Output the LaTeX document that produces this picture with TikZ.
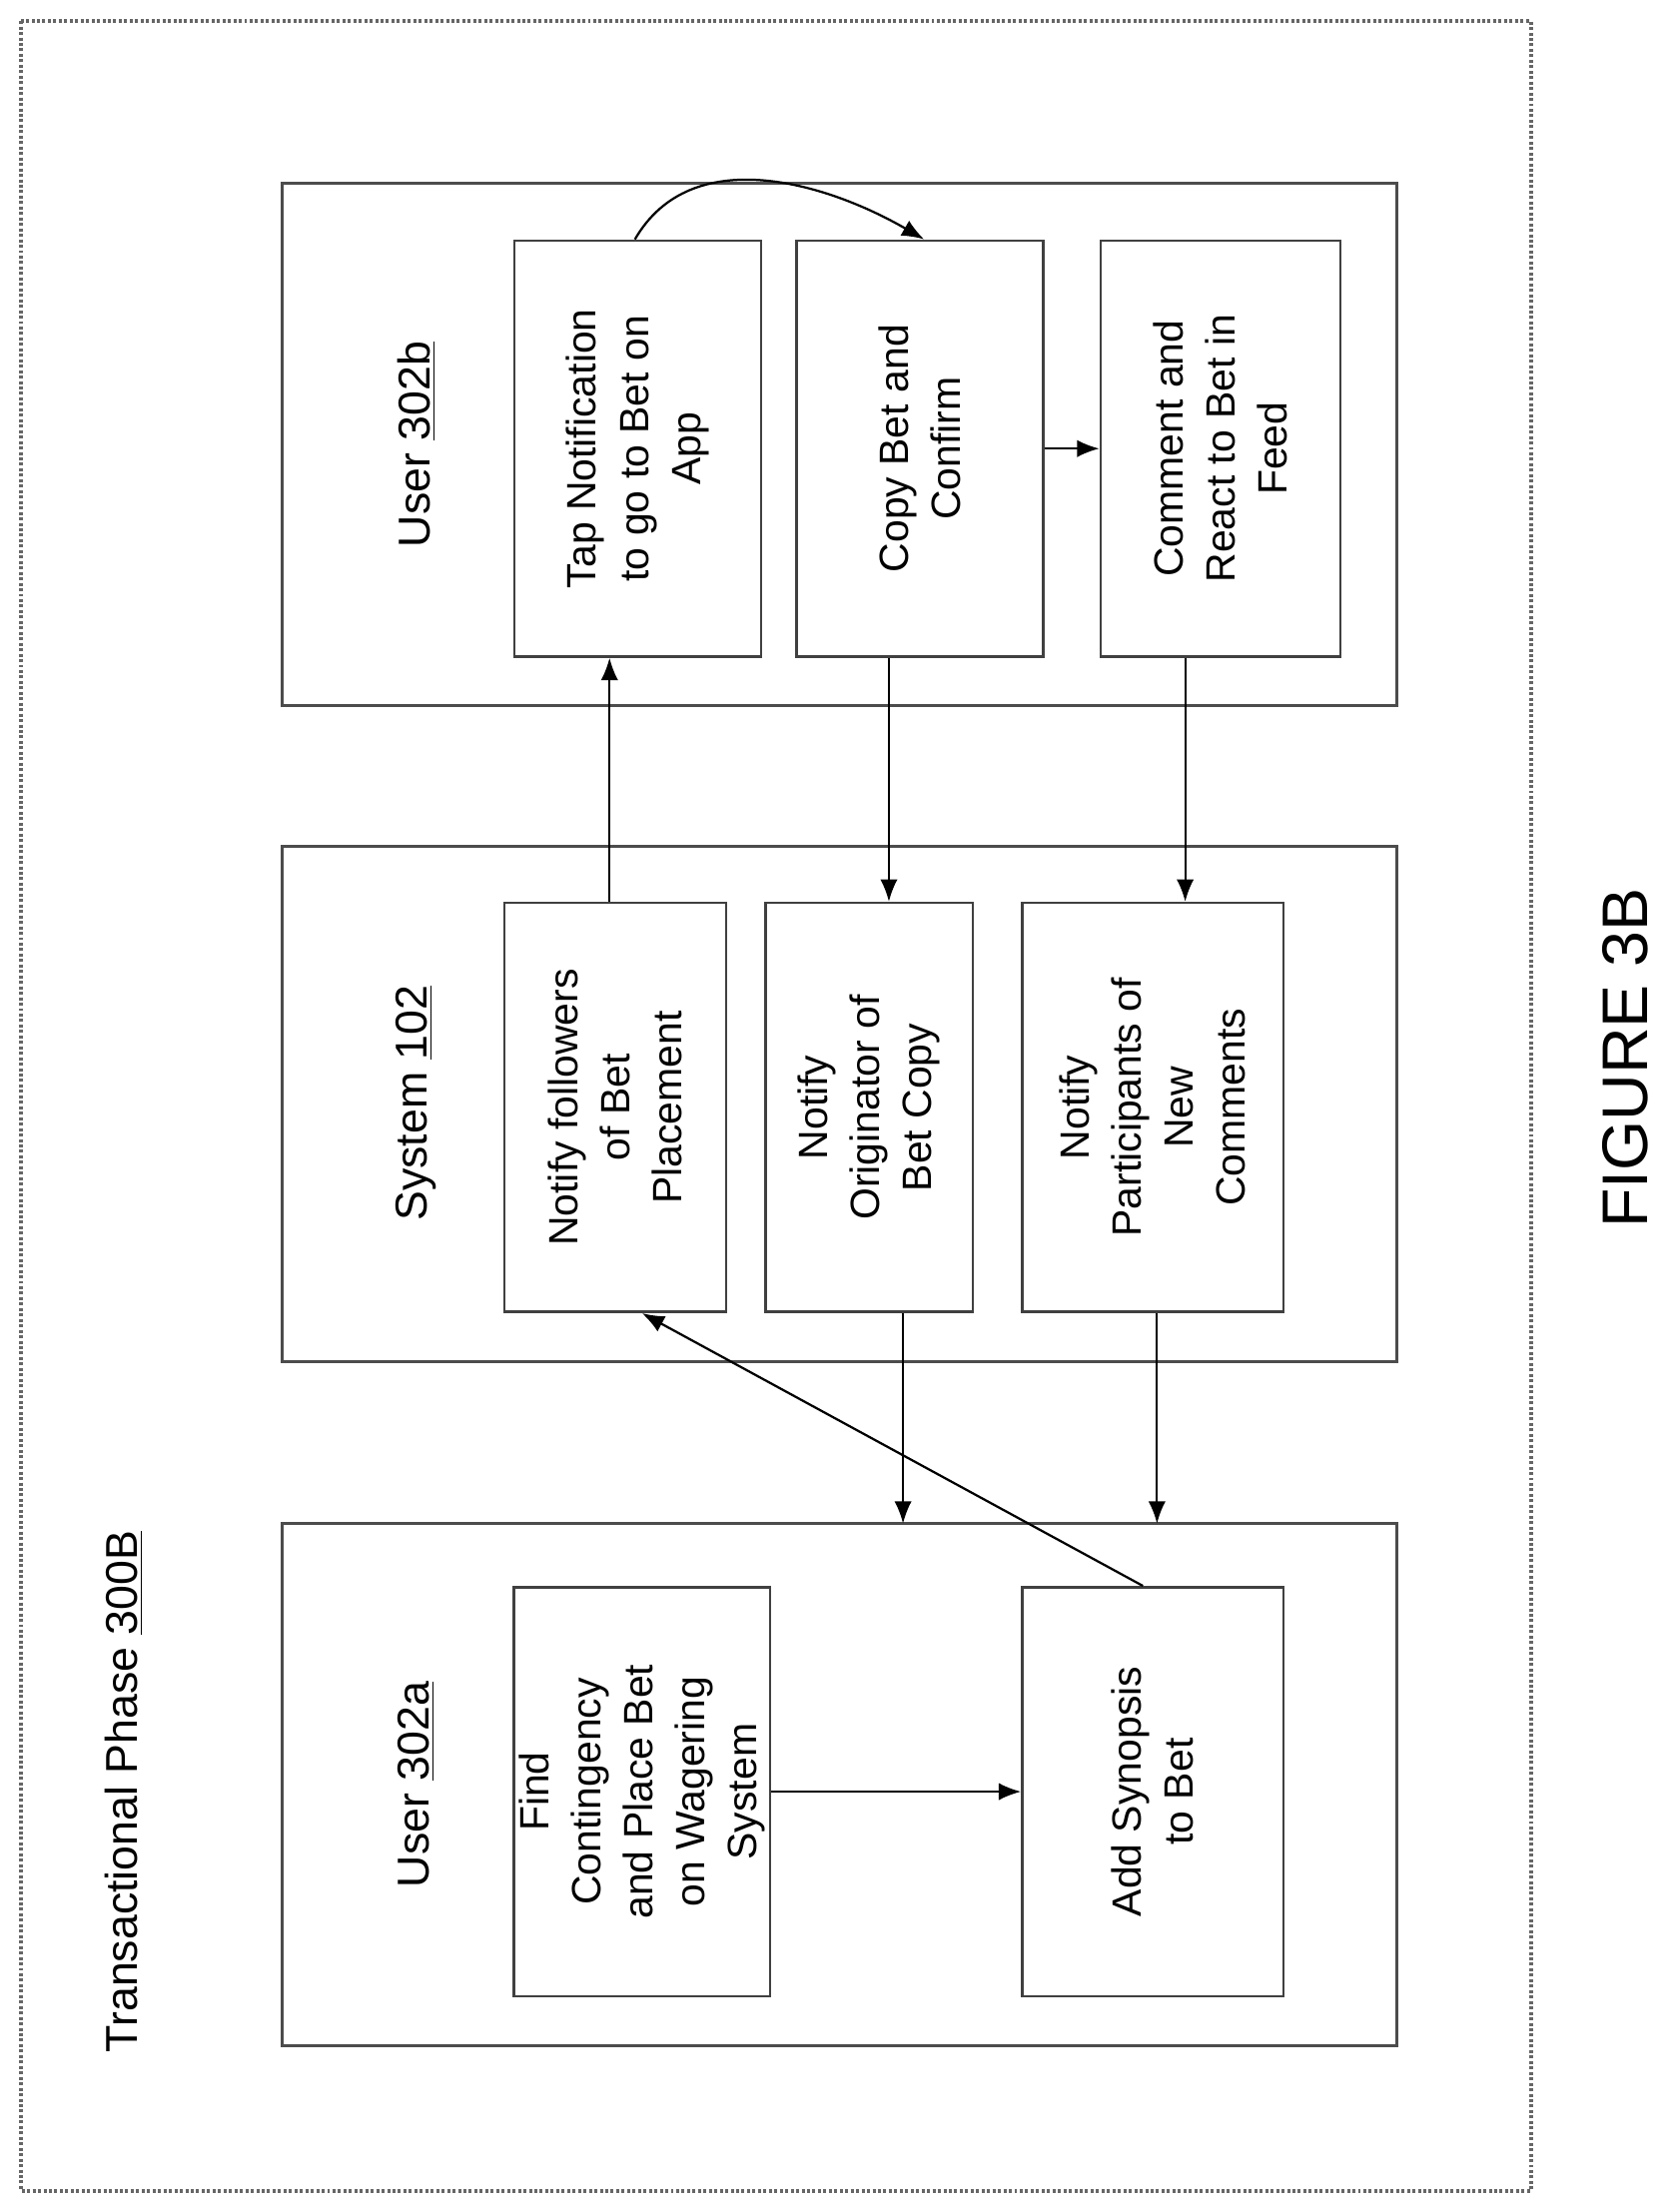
\documentclass[tikz,border=0pt]{standalone}
\usepackage{fontspec}
\setmainfont{Liberation Sans}
\usetikzlibrary{arrows.meta}
\begin{document}
\begin{tikzpicture}[x=0.02cm,y=-0.02cm,
    frame/.style={draw=black!70, line width=1.2pt},
    stepbox/.style={draw=black!75, line width=1pt, rotate=90, align=center,
                 font=\fontsize{16.5}{21}\selectfont, inner sep=2pt},
    lbl/.style={rotate=90, font=\fontsize{18}{22}\selectfont},
    flow/.style={-{Latex[length=9pt,width=7pt]}, line width=0.9pt}]
    \useasboundingbox (0,0) rectangle (1190,1568);

    % outer frame and groups
    \draw [frame, black!60, densely dotted, line width=1.5pt] (15,15) rectangle (1085,1553);
    \node [lbl] (title) at (88,1270) {Transactional Phase \underline{300B}};
    \node [lbl, font=\fontsize{26}{30}\selectfont] (fig) at (1152,750) {FIGURE 3B};

    \draw [frame] (200,1080) rectangle (990,1450);
    \draw [frame] (200,600) rectangle (990,965);
    \draw [frame] (200,130) rectangle (990,500);
    \node [lbl] (usera) at (295,1265) {User \underline{302a}};
    \node [lbl] (sys) at (295,782) {System \underline{102}};
    \node [lbl] (userb) at (295,315) {User \underline{302b}};

    % steps, user 302a
    \node [stepbox, minimum width=5.8cm, minimum height=3.6cm] (find) at (455,1270)
        {Find\\Contingency\\and Place Bet\\on Wagering\\System};
    \node [stepbox, minimum width=5.8cm, minimum height=3.7cm] (syn) at (817,1270)
        {Add Synopsis\\to Bet};
    % steps, system
    \node [stepbox, minimum width=5.8cm, minimum height=3.14cm] (fol) at (436,785)
        {Notify followers\\of Bet\\Placement};
    \node [stepbox, minimum width=5.8cm, minimum height=2.94cm] (orig) at (616,785)
        {Notify\\Originator of\\Bet Copy};
    \node [stepbox, minimum width=5.8cm, minimum height=3.7cm] (part) at (817,785)
        {Notify\\Participants of\\New\\Comments};
    % steps, user 302b
    \node [stepbox, minimum width=5.9cm, minimum height=3.5cm] (tap) at (452,318)
        {Tap Notification\\to go to Bet on\\App};
    \node [stepbox, minimum width=5.9cm, minimum height=3.5cm] (copy) at (652,318)
        {Copy Bet and\\Confirm};
    \node [stepbox, minimum width=5.9cm, minimum height=3.4cm] (com) at (865,318)
        {Comment and\\React to Bet in\\Feed};

    \coordinate (ina) at (640,1080);
    \coordinate (inb) at (820,1080);

    % connectors
    \draw [flow] (find) -- (syn);
    \draw [flow] (syn.east -| 810,0) -- (fol.west -| 455,0);
    \draw [flow] (fol.east -| 432,0) -- (tap.west -| 432,0);
    \draw [flow] (copy.west -| 630,0) -- (orig.east -| 630,0);
    \draw [flow] (com.west -| 840,0) -- (part.east -| 840,0);
    \draw [flow] (orig.west -| 640,0) -- (ina);
    \draw [flow] (part.west -| 820,0) -- (inb);
    \draw [flow] (copy) -- (com);
    \draw [flow] (tap.east -| 450,0) to[out=60,in=150] (copy.east -| 655,0);
\end{tikzpicture}
\end{document}
